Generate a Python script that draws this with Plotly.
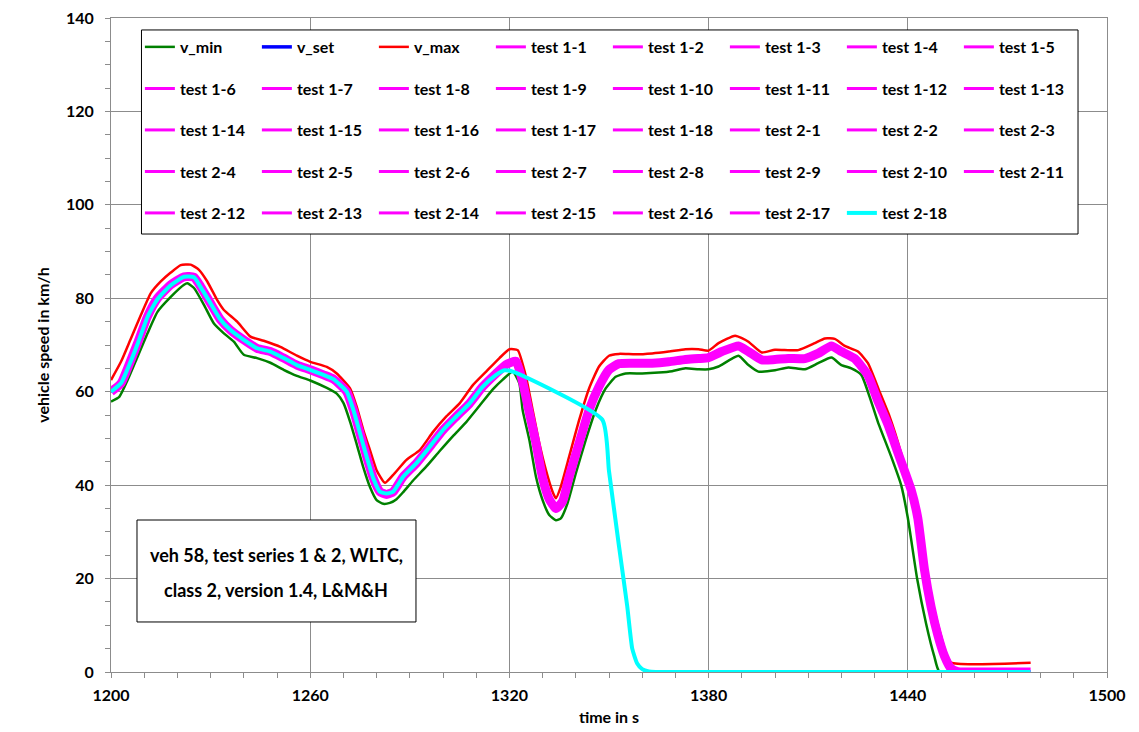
import plotly.graph_objects as go

# ---------------- data ----------------
# set speed (centre of the test band), km/h over time in s
t_set = [1200, 1203, 1206, 1208, 1211, 1214, 1218, 1222, 1225, 1227, 1230, 1233, 1236, 1240,
         1244, 1248, 1252, 1256, 1260, 1264, 1267, 1271, 1273, 1275, 1277, 1279, 1281, 1283,
         1285, 1288, 1292, 1296, 1300, 1304, 1308, 1312, 1316, 1319, 1322, 1324, 1326, 1328,
         1330, 1332, 1334, 1336, 1338, 1341, 1344, 1347, 1350, 1353, 1358, 1363, 1368, 1373,
         1377, 1380, 1384, 1389, 1392, 1396, 1400, 1404, 1409, 1413, 1417, 1420, 1424, 1428,
         1431, 1434, 1437, 1441, 1443, 1445, 1447, 1449, 1451, 1453, 1455, 1457, 1477]
v_set = [60.0, 61.8, 66.8, 70.4, 76.1, 80.0, 82.9, 84.6, 84.5, 82.5, 78.9, 75.4, 73.2, 71.1,
         69.3, 68.6, 67.2, 65.7, 64.7, 63.6, 62.7, 60.0, 56.1, 51.1, 46.1, 41.5, 38.6, 38.0,
         38.6, 41.8, 44.7, 48.2, 51.8, 54.7, 57.5, 61.1, 63.9, 65.8, 66.5, 62.0, 55.5, 49.0,
         41.5, 37.0, 35.0, 36.5, 41.8, 49.0, 56.1, 61.1, 64.7, 66.0, 66.1, 66.1, 66.4, 66.9,
         67.1, 67.3, 68.6, 69.8, 68.6, 66.8, 66.9, 67.1, 67.1, 68.2, 69.8, 68.6, 67.1, 63.5,
         58.0, 53.0, 47.0, 39.0, 33.0, 22.0, 14.0, 8.0, 3.5, 0.8, 0.1, 0.0, 0.0]

# upper tolerance v_max
t_max = [1200, 1203, 1206, 1209, 1212, 1215, 1218, 1221, 1224, 1226.5, 1229, 1232, 1234, 1238,
         1242, 1246, 1251, 1256, 1260, 1265, 1268, 1272, 1274, 1276, 1278, 1280, 1282.5, 1285,
         1289, 1293, 1297, 1301, 1305, 1309, 1313, 1317, 1320, 1322.5, 1325, 1327, 1329, 1331,
         1333, 1334, 1335.5, 1338, 1341, 1344, 1347, 1350, 1353, 1358, 1363, 1368, 1373, 1377,
         1380, 1383, 1388, 1392, 1396, 1400, 1407, 1412, 1415, 1418, 1421, 1425, 1428, 1431.5,
         1434.5, 1438, 1441, 1443.5, 1446, 1449, 1451.5, 1453, 1477]
v_max = [62.5, 66.4, 71.4, 76.4, 81.1, 83.6, 85.5, 87.1, 87.2, 86.1, 83.6, 79.6, 77.5, 75.0,
         71.8, 70.9, 69.6, 67.7, 66.4, 65.3, 63.9, 60.7, 56.8, 51.8, 47.5, 43.2, 40.5, 42.2,
         45.4, 47.5, 51.4, 54.7, 57.5, 61.4, 64.3, 67.2, 69.1, 68.9, 63.2, 56.1, 49.0, 43.2,
         38.6, 37.2, 39.7, 46.1, 53.9, 60.7, 65.4, 67.7, 68.1, 68.0, 68.2, 68.6, 69.1, 69.1,
         68.8, 70.4, 72.0, 70.7, 68.4, 69.0, 68.9, 70.4, 71.4, 71.3, 69.8, 68.6, 66.1, 60.0,
         54.7, 46.8, 38.3, 29.0, 19.0, 10.4, 4.0, 2.0, 2.0]

# lower tolerance v_min
t_min = [1200, 1202.5, 1205, 1208, 1211, 1214, 1218, 1222, 1223, 1225, 1228, 1231, 1234, 1237,
         1240, 1244, 1248, 1252, 1256, 1260, 1265, 1268, 1270, 1272, 1274, 1276, 1278, 1280,
         1282, 1284, 1286, 1288, 1291, 1295, 1299, 1303, 1307, 1311, 1315, 1318, 1321, 1323,
         1324, 1326, 1328, 1330, 1332, 1334, 1335.5, 1337.5, 1340, 1343, 1346, 1349, 1352, 1355,
         1360, 1365, 1369, 1373, 1377, 1380, 1383, 1389, 1392, 1395, 1400, 1404, 1409, 1413,
         1417, 1420, 1423, 1426, 1428.5, 1431, 1435, 1438, 1440, 1442.8, 1445.5, 1448, 1449.6, 1477]
v_min = [57.9, 58.9, 62.5, 67.5, 72.5, 77.1, 80.3, 82.9, 83.2, 82.2, 78.6, 74.6, 72.5, 70.7,
         67.9, 67.2, 66.2, 64.7, 63.4, 62.4, 60.8, 59.6, 57.6, 53.6, 48.8, 43.8, 39.6, 36.8,
         36.0, 36.2, 37.0, 38.5, 41.0, 44.0, 47.3, 50.5, 53.5, 57.0, 60.5, 62.6, 64.3, 61.8,
         56.0, 49.7, 41.8, 36.8, 33.6, 32.5, 32.9, 36.1, 42.5, 49.7, 56.1, 60.7, 63.2, 63.9,
         63.9, 64.1, 64.4, 65.0, 64.8, 64.8, 65.4, 67.7, 65.7, 64.3, 64.6, 65.2, 64.8, 66.1,
         67.3, 65.7, 65.0, 63.6, 58.9, 53.5, 46.1, 40.0, 33.0, 20.0, 10.4, 3.3, 0.0, 0.0]

# test 2-18 (aborted run, cyan)
t_2_18 = [1200, 1203, 1206, 1208, 1211, 1214, 1218, 1222, 1225, 1227, 1230, 1233, 1236, 1240,
          1244, 1248, 1252, 1256, 1260, 1264, 1267, 1271, 1273, 1275, 1277, 1279, 1281, 1283,
          1285, 1288, 1292, 1296, 1300, 1304, 1308, 1312, 1316, 1318.5, 1321, 1348, 1350, 1353,
          1355.5, 1357, 1358.5, 1360, 1362, 1364, 1477]
v_2_18 = [60.0, 61.8, 66.6, 70.2, 76.0, 79.8, 82.8, 84.6, 84.5, 82.4, 78.9, 75.4, 73.2, 71.1,
          69.3, 68.6, 67.2, 65.7, 64.7, 63.6, 62.7, 60.0, 56.1, 51.1, 46.1, 41.5, 38.6, 38.2,
          38.6, 41.8, 44.7, 48.2, 51.8, 54.7, 57.5, 61.1, 63.6, 64.6, 64.3, 54.0, 43.0, 27.0,
          14.0, 5.0, 1.8, 0.6, 0.1, 0.0, 0.0]

series_names = ["v_min", "v_set", "v_max"]
test_names = ["test 1-%d" % i for i in range(1, 19)] + ["test 2-%d" % i for i in range(1, 18)]
last_test_name = "test 2-18"
annotation_lines = ["veh 58, test series 1 & 2, WLTC,", "class 2, version 1.4, L&M&H"]
x_ticks = [1200, 1260, 1320, 1380, 1440, 1500]
y_ticks = [0, 20, 40, 60, 80, 100, 120, 140]

# ---------------- styles ----------------
FONT = "Lato"
GREEN, BLUE, RED, MAGENTA, CYAN = "#008000", "#0000FF", "#FF0000", "#FF00FF", "#00FFFF"
GRID = "#8c8c8c"
legend_ids = ["legend", "legend2", "legend3", "legend4", "legend5"]
row_y = [0.9557, 0.8922, 0.8287, 0.7653, 0.7018]
PER_ROW = 8

fig = go.Figure()
entry = [0]


def legend_for_next():
    lid = legend_ids[entry[0] // PER_ROW]
    entry[0] += 1
    return lid


def add_line(x, y, name, color, width, show=True):
    kw = dict(x=x, y=y, name=name, mode="lines",
              line=dict(color=color, width=width, shape="spline", smoothing=0.5),
              hoverinfo="skip", showlegend=show)
    if show:
        kw["legend"] = legend_for_next()
    fig.add_trace(go.Scatter(**kw))


add_line(t_min, v_min, series_names[0], GREEN, 2.5)
add_line(t_set, v_set, series_names[1], BLUE, 3.5)
add_line(t_max, v_max, series_names[2], RED, 2.5)
# width of the overlapping magenta test runs (no legend entry)
add_line(t_set, v_set, "test band", MAGENTA, 9, show=False)
for nm in test_names:
    add_line(t_set, v_set, nm, MAGENTA, 3)
add_line(t_2_18, v_2_18, last_test_name, CYAN, 4)

legend_font = dict(family=FONT, size=16, color="black", weight="bold")
for k, lid in enumerate(legend_ids):
    fig.update_layout(**{lid: dict(
        orientation="h", x=0.029, xanchor="left", y=row_y[k], yanchor="middle",
        bgcolor="rgba(0,0,0,0)", borderwidth=0, font=legend_font,
        entrywidth=72, entrywidthmode="pixels", itemwidth=30, traceorder="normal")})

tick_font = dict(family=FONT, size=16, color="black", weight="bold")
title_font = dict(family=FONT, size=16, color="black", weight="bold")

fig.update_layout(
    width=1139, height=732,
    margin=dict(l=111, r=32, t=18, b=60),
    paper_bgcolor="white", plot_bgcolor="white",
    showlegend=True,
    xaxis=dict(range=[1200, 1500], tickmode="array", tickvals=x_ticks, automargin=False,
               showgrid=True, gridcolor=GRID, gridwidth=1,
               showline=True, linecolor=GRID, linewidth=1, mirror=True,
               ticks="outside", ticklen=5, tickcolor=GRID,
               minor=dict(dtick=10, ticks="outside", ticklen=5, tickcolor=GRID, showgrid=False),
               zeroline=False, tickfont=tick_font, ticklabelstandoff=4,
               title=dict(text="time in s", font=title_font, standoff=8)),
    yaxis=dict(range=[0, 140], tickmode="array", tickvals=y_ticks, automargin=False,
               showgrid=True, gridcolor=GRID, gridwidth=1,
               showline=True, linecolor=GRID, linewidth=1, mirror=True,
               ticks="outside", ticklen=5, tickcolor=GRID,
               minor=dict(dtick=5, ticks="outside", ticklen=5, tickcolor=GRID, showgrid=False),
               zeroline=False, tickfont=tick_font, ticklabelstandoff=8,
               title=dict(text="vehicle speed in km/h", font=title_font, standoff=12)),
)

# legend frame
fig.add_shape(type="rect", xref="paper", yref="paper", x0=0.0306, x1=0.9709, y0=0.6697, y1=0.9817,
              line=dict(color="black", width=1), fillcolor="white", layer="above")
# info box
fig.add_shape(type="rect", xref="paper", yref="paper", x0=0.0261, x1=0.3062, y0=0.0765, y1=0.2324,
              line=dict(color="black", width=1), fillcolor="white", layer="above")
for txt, yy in zip(annotation_lines, [0.1789, 0.1254]):
    fig.add_annotation(text=txt, xref="paper", yref="paper", x=0.166, y=yy, showarrow=False,
                       xanchor="center", yanchor="middle",
                       font=dict(family=FONT, size=18, color="black", weight="bold"))

fig.write_html("out.html", post_script="document.body.style.margin='0';",
               config={"displayModeBar": False})
